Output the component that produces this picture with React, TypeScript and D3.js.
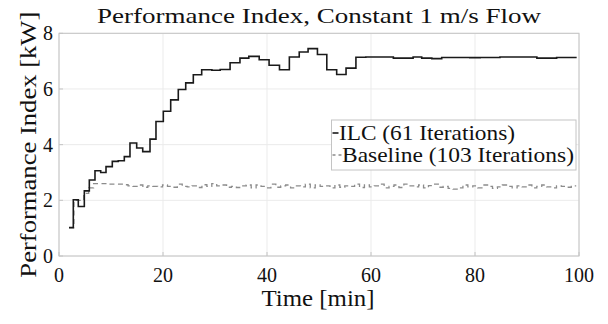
import React from "react";
import * as d3 from "d3";

const title = "Performance Index, Constant 1 m/s Flow";
const xLabel = "Time [min]";
const yLabel = "Performance Index [kW]";
const xTicks = [0, 20, 40, 60, 80, 100];
const yTicks = [0, 2, 4, 6, 8];

// ILC iterations: start time [min] and performance index [kW]
const ilcTimes = [
  1.92, 2.75, 3.71, 4.87, 5.83, 6.92, 8.02, 9.04, 10.25, 11.4, 12.56, 13.65, 14.94, 16.1, 17.5,
  18.65, 20.06, 21.48, 22.94, 24.37, 25.83, 27.44, 29.4, 31.0, 32.9, 34.8, 36.5, 38.5, 40.4, 42.4,
  44.3, 46.2, 47.9, 49.7, 51.5, 53.4, 55.2, 57.1, 59.0, 60.9, 62.6, 64.3, 66.2, 68.1, 69.75, 71.7,
  73.6, 75.4, 77.2, 79.0, 81.0, 82.9, 84.8, 86.5, 88.2, 90.0, 91.9, 93.8, 95.7, 97.6, 99.55,
];
const ilcValues = [
  1.02, 2.02, 1.78, 2.34, 2.73, 3.06, 3.0, 3.21, 3.4, 3.42, 3.57, 4.06, 3.88, 3.75, 4.2,
  4.83, 5.2, 5.61, 5.98, 6.22, 6.51, 6.69, 6.67, 6.7, 6.94, 7.11, 7.17, 7.05, 6.85, 6.69,
  7.15, 7.33, 7.45, 7.24, 6.69, 6.52, 6.75, 7.14, 7.146, 7.146, 7.146, 7.11, 7.11, 7.146, 7.11, 7.09,
  7.13, 7.13, 7.13, 7.125, 7.13, 7.13, 7.146, 7.146, 7.146, 7.146, 7.11, 7.11, 7.13, 7.13, 7.13,
];

// Baseline iterations (fixed iteration period)
const baselineStart = 1.92;
const baselinePeriod = 0.947;
const baselineValues = [
  1.02, 2.0, 2.0, 2.25, 2.45, 2.6, 2.6, 2.6, 2.58, 2.58, 2.58, 2.56, 2.52, 2.5, 2.55, 2.47, 2.52,
  2.5, 2.48, 2.55, 2.5, 2.47, 2.58, 2.5, 2.48, 2.52, 2.46, 2.56, 2.5, 2.6, 2.52, 2.55, 2.47, 2.5,
  2.46, 2.52, 2.55, 2.45, 2.55, 2.5, 2.45, 2.58, 2.47, 2.52, 2.55, 2.45, 2.52, 2.48, 2.58, 2.45,
  2.55, 2.5, 2.52, 2.45, 2.55, 2.47, 2.52, 2.5, 2.58, 2.46, 2.55, 2.48, 2.52, 2.58, 2.45, 2.5,
  2.55, 2.46, 2.58, 2.52, 2.48, 2.55, 2.45, 2.53, 2.58, 2.47, 2.5, 2.43, 2.4, 2.45, 2.55, 2.48,
  2.52, 2.45, 2.55, 2.5, 2.43, 2.48, 2.55, 2.5, 2.45, 2.52, 2.48, 2.55, 2.45, 2.5, 2.55, 2.48,
  2.45, 2.52, 2.5, 2.47, 2.52,
];

const W = 608;
const H = 324;
const fontStyle: React.CSSProperties = { fontFamily: '"Liberation Serif", "DejaVu Serif", serif' };

export default function App() {
  const x = d3.scaleLinear().domain([0, 100]).range([59, 579]);
  const y = d3.scaleLinear().domain([0, 8]).range([256, 33.3]);

  const ilcPts: [number, number][] = ilcTimes.map((t, i) => [t, ilcValues[i]]);
  const basePts: [number, number][] = baselineValues.map((v, i) => [baselineStart + i * baselinePeriod, v]);
  basePts.push([baselineStart + baselineValues.length * baselinePeriod, baselineValues[baselineValues.length - 1]]);

  const line = d3
    .line<[number, number]>()
    .x((d) => x(d[0]))
    .y((d) => y(d[1]))
    .curve(d3.curveStepAfter);

  const [x0, x1] = x.range();
  const [yb, yt] = y.range();

  return (
    <svg width={W} height={H} style={{ position: "absolute", left: 0, top: 0, background: "#fff" }}>
      <rect x={0} y={0} width={W} height={H} fill="#fff" />
      {xTicks.map((t) => (
        <line key={"gx" + t} x1={x(t)} x2={x(t)} y1={yb} y2={yt} stroke="#ebebeb" strokeWidth={1} />
      ))}
      {yTicks.map((t) => (
        <line key={"gy" + t} x1={x0} x2={x1} y1={y(t)} y2={y(t)} stroke="#ebebeb" strokeWidth={1} />
      ))}
      <rect x={x0} y={yt} width={x1 - x0} height={yb - yt} fill="none" stroke="#c4c4c4" strokeWidth={1} />
      {xTicks.map((t) => (
        <line key={"tx" + t} x1={x(t)} x2={x(t)} y1={yb} y2={yb - 4} stroke="#c4c4c4" />
      ))}
      {yTicks.map((t) => (
        <line key={"ty" + t} x1={x0} x2={x0 + 4} y1={y(t)} y2={y(t)} stroke="#c4c4c4" />
      ))}
      <path d={line(basePts) || ""} fill="none" stroke="#8c8c8c" strokeWidth={1.3} strokeDasharray="5,3.5" />
      <path d={line(ilcPts) || ""} fill="none" stroke="#1a1a1a" strokeWidth={1.6} />
      {xTicks.map((t) => (
        <text key={"lx" + t} x={x(t)} y={282} textAnchor="middle" style={fontStyle} fontSize={20} fill="#111">
          {t}
        </text>
      ))}
      {yTicks.map((t) => (
        <text key={"ly" + t} x={53} y={y(t) + 7} textAnchor="end" style={fontStyle} fontSize={20} fill="#111">
          {t}
        </text>
      ))}
      <text x={319} y={23} textAnchor="middle" style={fontStyle} fontSize={22} fill="#111" textLength={444} lengthAdjust="spacingAndGlyphs">
        {title}
      </text>
      <text x={318} y={306} textAnchor="middle" style={fontStyle} fontSize={24} fill="#111" textLength={113} lengthAdjust="spacingAndGlyphs">
        {xLabel}
      </text>
      <text
        transform={`translate(36,${(yb + yt) / 2}) rotate(-90)`}
        textAnchor="middle"
        style={fontStyle}
        fontSize={24}
        fill="#111"
        textLength={266}
        lengthAdjust="spacingAndGlyphs"
      >
        {yLabel}
      </text>
      <rect x={331.5} y={120} width={244.5} height={50} fill="#fff" stroke="#c4c4c4" strokeWidth={1} />
      <line x1={332.5} x2={338.5} y1={133} y2={133} stroke="#1a1a1a" strokeWidth={1.6} />
      <text x={339} y={140} style={fontStyle} fontSize={21} fill="#111" textLength={176} lengthAdjust="spacingAndGlyphs">
        ILC (61 Iterations)
      </text>
      <line x1={332.5} x2={342} y1={155} y2={155} stroke="#8c8c8c" strokeWidth={1.3} strokeDasharray="3,3" />
      <text x={342} y={162} style={fontStyle} fontSize={21} fill="#111" textLength={232} lengthAdjust="spacingAndGlyphs">
        Baseline (103 Iterations)
      </text>
    </svg>
  );
}
